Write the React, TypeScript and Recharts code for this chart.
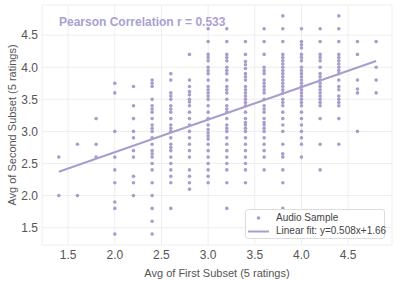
import { ScatterChart, Scatter, XAxis, YAxis, CartesianGrid, ReferenceLine, Legend } from 'recharts'

// ── Data ─────────────────────────────────────────────────────────────────────

// x: avg of first subset (columns), y: avg of second subset per column
const firstSubsetAvg = [1.4, 1.6, 1.8, 2.0, 2.2, 2.4, 2.6, 2.8, 3.0, 3.2, 3.4, 3.6, 3.8, 4.0, 4.2, 4.4, 4.6, 4.8]

const col14 = [2.6, 2.0]
const col16 = [2.8, 2.0]
const col18 = [3.2, 2.8, 2.6]
const col20 = [3.75, 3.6, 3.0, 2.6, 2.4, 2.2, 1.9, 1.8, 1.4]
const col22 = [3.7, 3.4, 3.2, 3.0, 2.9, 2.7, 2.6, 2.3, 2.2, 2.0]
const col24 = [3.8, 3.75, 3.7, 3.5, 3.4, 3.35, 3.3, 3.2, 3.1, 3.05, 3.0, 2.9, 2.8, 2.7, 2.65, 2.6, 2.5, 2.4, 2.2, 2.0, 1.8, 1.6, 1.4]
const col26 = [3.9, 3.8, 3.6, 3.55, 3.5, 3.4, 3.35, 3.3, 3.2, 3.1, 3.05, 3.0, 2.9, 2.8, 2.75, 2.7, 2.6, 2.5, 2.4, 2.3, 2.2, 1.8]
const col28 = [4.2, 3.8, 3.7, 3.62, 3.57, 3.5, 3.46, 3.4, 3.3, 3.2, 3.1, 3.0, 2.9, 2.8, 2.7, 2.6, 2.4, 2.3, 2.2, 2.1]
const col30 = [4.6, 4.4, 4.2, 4.15, 4.1, 4.0, 3.95, 3.9, 3.8, 3.7, 3.65, 3.6, 3.55, 3.5, 3.4, 3.3, 3.2, 3.1, 3.03, 2.98, 2.93, 2.88, 2.8, 2.7, 2.6, 2.5, 2.4, 2.3, 2.2]
const col32 = [4.6, 4.4, 4.2, 4.15, 4.1, 4.0, 3.95, 3.9, 3.8, 3.7, 3.65, 3.6, 3.5, 3.4, 3.35, 3.3, 3.2, 3.1, 3.05, 3.0, 2.9, 2.8, 2.7, 2.6, 2.5, 2.4, 2.2, 1.8]
const col34 = [4.4, 4.2, 4.09, 4.04, 3.98, 3.9, 3.85, 3.8, 3.7, 3.65, 3.6, 3.55, 3.5, 3.45, 3.4, 3.3, 3.2, 3.14, 3.1, 3.05, 3.0, 2.9, 2.8, 2.7, 2.6, 2.5, 2.4, 2.2]
const col36 = [4.6, 4.4, 4.2, 4.0, 3.95, 3.9, 3.8, 3.75, 3.7, 3.65, 3.6, 3.5, 3.4, 3.35, 3.3, 3.2, 3.14, 3.1, 3.05, 3.0, 2.9, 2.8, 2.7, 2.6, 2.4]
const col38 = [4.8, 4.6, 4.4, 4.2, 4.15, 4.1, 4.05, 4.0, 3.95, 3.9, 3.85, 3.8, 3.75, 3.7, 3.65, 3.6, 3.5, 3.45, 3.4, 3.3, 3.2, 3.1, 3.0, 2.8, 2.65, 2.6, 2.4, 2.2, 1.8]
const col40 = [4.6, 4.4, 4.35, 4.3, 4.2, 4.15, 4.1, 4.0, 3.95, 3.9, 3.85, 3.8, 3.75, 3.7, 3.65, 3.6, 3.55, 3.5, 3.45, 3.4, 3.3, 3.2, 3.1, 3.0, 2.9, 2.8, 2.6]
const col42 = [4.6, 4.4, 4.2, 4.15, 4.1, 4.0, 3.9, 3.85, 3.8, 3.75, 3.7, 3.65, 3.6, 3.55, 3.5, 3.45, 3.4, 3.2, 2.8, 2.4]
const col44 = [4.8, 4.6, 4.4, 4.2, 4.15, 4.1, 4.05, 4.0, 3.95, 3.9, 3.8, 3.7, 3.65, 3.55, 3.5, 3.45, 3.4, 3.2, 2.8]
const col46 = [4.4, 4.2, 3.8, 3.66, 3.6, 3.0]
const col48 = [4.4, 4.0, 3.8, 3.6]

const secondSubsetAvg = [col14, col16, col18, col20, col22, col24, col26, col28, col30, col32, col34, col36, col38, col40, col42, col44, col46, col48]

const fitSlope = 0.508
const fitIntercept = 1.66
const pearsonR = 0.533

const xTicks = [1.5, 2.0, 2.5, 3.0, 3.5, 4.0, 4.5]
const yTicks = [1.5, 2.0, 2.5, 3.0, 3.5, 4.0, 4.5]

// ── Derived ──────────────────────────────────────────────────────────────────

const points = firstSubsetAvg.flatMap((x, i) => secondSubsetAvg[i].map(y => ({ x, y })))

const xMin = firstSubsetAvg[0]
const xMax = firstSubsetAvg[firstSubsetAvg.length - 1]
const fitSegment = [
  { x: xMin, y: fitSlope * xMin + fitIntercept },
  { x: xMax, y: fitSlope * xMax + fitIntercept },
]

const FONT = '"Liberation Sans", Arial, Helvetica, sans-serif'
const PURPLE = '#a99dce'
const TEXT = '#555'

function Dot(props: { cx?: number; cy?: number }) {
  if (props.cx == null || props.cy == null) return null
  return <circle cx={props.cx} cy={props.cy} r={1.8} fill={PURPLE} />
}

function LegendBox() {
  return (
    <div style={{
      width: 140, height: 30, border: '1px solid #dddddd', borderRadius: 3, background: '#fff',
      fontSize: 10, color: '#444', fontFamily: FONT, boxSizing: 'border-box', position: 'relative',
    }}>
      <svg width={30} height={30} style={{ position: 'absolute', left: 0, top: 0 }}>
        <circle cx={12.5} cy={8} r={1.8} fill={PURPLE} />
        <line x1={2} x2={23} y1={21.5} y2={21.5} stroke={PURPLE} strokeWidth={2} />
      </svg>
      <div style={{ position: 'absolute', left: 30, top: 2, lineHeight: '12px', whiteSpace: 'nowrap' }}>Audio Sample</div>
      <div style={{ position: 'absolute', left: 30, top: 15, lineHeight: '12px', whiteSpace: 'nowrap' }}>
        Linear fit: y={fitSlope.toFixed(3)}x+{fitIntercept.toFixed(2)}
      </div>
    </div>
  )
}

export default function App() {
  return (
    <div style={{ position: 'absolute', left: 0, top: 0, width: 397, height: 281, background: '#fff', fontFamily: FONT }}>
      <ScatterChart width={397} height={281} margin={{ top: 5, right: 5, bottom: 0, left: 0 }}>
        <CartesianGrid stroke="#eeeeee" strokeWidth={1} />
        <XAxis
          type="number"
          dataKey="x"
          domain={[1.22, 4.97]}
          ticks={xTicks}
          allowDataOverflow
          axisLine={false}
          tickLine={false}
          tickSize={0}
          tickMargin={5}
          height={36}
          tick={{ fontSize: 12, fill: TEXT }}
          tickFormatter={(v: number) => v.toFixed(1)}
          label={{ value: 'Avg of First Subset (5 ratings)', position: 'insideBottom', offset: 4, style: { fontSize: 11, fill: TEXT } }}
        />
        <YAxis
          type="number"
          dataKey="y"
          domain={[1.23, 4.97]}
          ticks={yTicks}
          allowDataOverflow
          axisLine={false}
          tickLine={false}
          tickSize={0}
          tickMargin={4}
          width={42}
          tick={{ fontSize: 12, fill: TEXT }}
          tickFormatter={(v: number) => v.toFixed(1)}
          label={{
            content: (p: { viewBox?: { x: number; y: number; height: number } }) => {
              const vb = p.viewBox ?? { x: 0, y: 0, height: 0 }
              const cx = vb.x + 12
              const cy = vb.y + vb.height / 2
              return (
                <text x={cx} y={cy} transform={`rotate(-90 ${cx} ${cy})`} textAnchor="middle" dominantBaseline="central" fontSize={11} fill={TEXT}>
                  Avg of Second Subset (5 ratings)
                </text>
              )
            },
          }}
        />
        <Scatter data={points} shape={<Dot />} isAnimationActive={false} name="Audio Sample" />
        <ReferenceLine segment={fitSegment} stroke={PURPLE} strokeWidth={2} ifOverflow="visible" />
        <Legend
          layout="horizontal"
          verticalAlign="middle"
          align="center"
          wrapperStyle={{ left: 245, top: 209, width: 140 }}
          content={() => <LegendBox />}
        />
      </ScatterChart>
      <div style={{
        position: 'absolute', left: 59, top: 14, fontSize: 12, fontWeight: 'bold', color: '#ab9fd0',
        whiteSpace: 'nowrap', lineHeight: '16px',
      }}>
        Pearson Correlation r = {pearsonR.toFixed(3)}
      </div>
    </div>
  )
}
